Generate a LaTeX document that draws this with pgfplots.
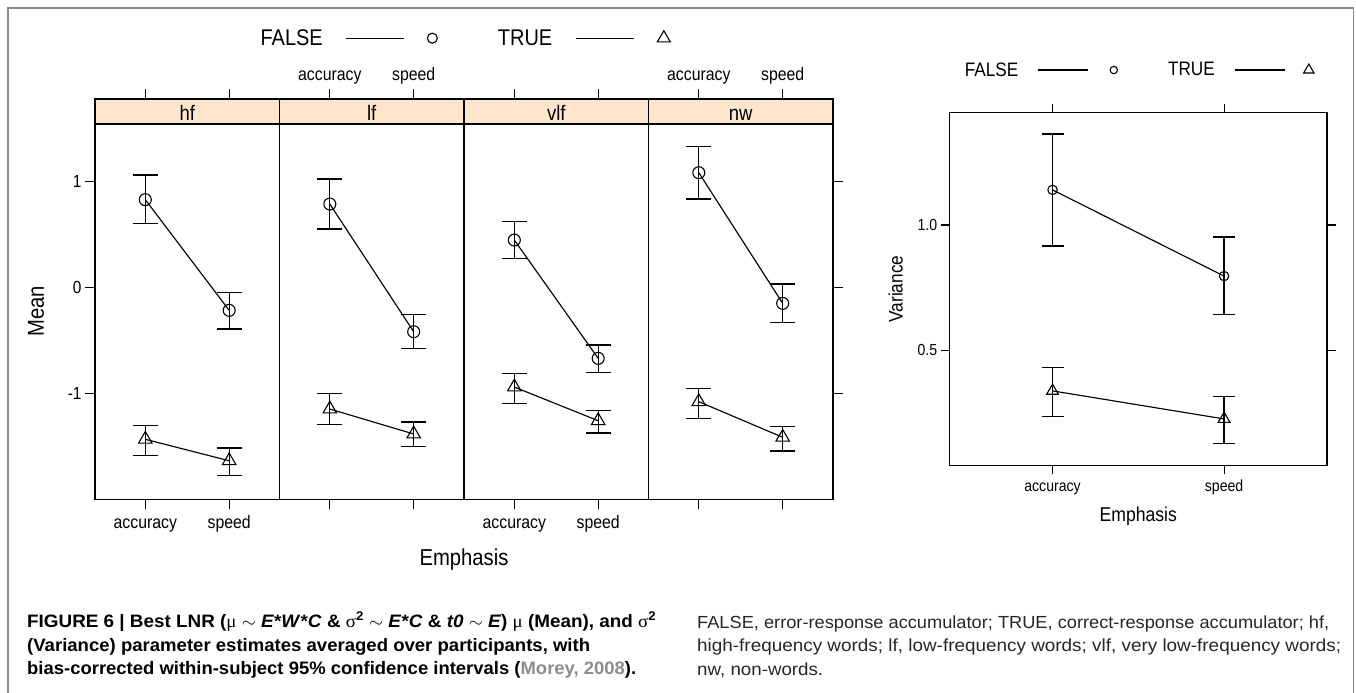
\documentclass[border=0pt]{standalone}
\usepackage{fontspec}
\setmainfont{Liberation Sans}
\newfontfamily\pf[FakeStretch=0.88]{Liberation Sans}
\newfontfamily\greek{Liberation Serif}
\usepackage{graphicx}
\usepackage{pgfplots}
\pgfplotsset{compat=1.18}

\definecolor{strip}{HTML}{FFE5CC}
\definecolor{frame}{HTML}{8A8A8A}
\definecolor{cite}{HTML}{8C8C8C}
\newcommand\fs[1]{\fontsize{#1bp}{#1bp}\selectfont}

\pgfplotsset{
  lat/.style={
    scale only axis, clip=false,
    xmin=0.4, xmax=2.6, xtick={1,2},
    xtick pos=both, tick align=outside, major tick length=10bp,
    axis line style={line width=1.1bp, black},
    tick style={black, line width=1.1bp},
    tick label style={font=\pf\fs{18}},
    xticklabel style={text height=15.5bp, text depth=5.4bp},
    error bars/y dir=both, error bars/y explicit,
    error bars/error bar style={line width=1.3bp},
    error bars/error mark options={rotate=90, mark size=12.5bp, line width=1.3bp},
  },
  mean/.style={lat, width=184.5bp, height=400.3bp, ymin=-1.996, ymax=1.773, anchor=south west},
  fls/.style={black, line width=1.15bp, mark=o, mark size=6bp, mark options={line width=1.1bp}},
  tru/.style={black, line width=1.15bp, mark=triangle, mark size=7.8bp, mark options={line width=1.1bp}},
}
% strip on top of a panel
\newcommand\strip[1]{%
  \draw[line width=1.1bp, fill=strip] (rel axis cs:0,1) rectangle ([yshift=-25bp]rel axis cs:1,1);
  \node[anchor=base, font=\pf\fs{21}, inner sep=0pt] at ([yshift=-21bp]rel axis cs:0.5,1) {#1};}

\begin{document}
\begin{tikzpicture}
\path[use as bounding box] (0,0) rectangle (1356bp,-693bp);

% hf
\begin{axis}[mean, at={(95bp,-499.3bp)},
  xticklabels={accuracy,speed},
  ytick={-1,0,1}, yticklabels={-1,0,1}, ytick pos=left,
  yticklabel style={font=\pf\fs{17.5}},
  legend columns=2, legend plot pos=right,
  legend style={draw=none, fill=none, at={(2.008,1.152)}, anchor=center,
    font=\pf\fs{22.7}, nodes={inner sep=0pt},
    /tikz/every odd column/.append style={column sep=23bp},
    /tikz/every even column/.append style={column sep=60bp}}]
\addplot[fls, legend image code/.code={
    \draw[line width=1.1bp] (0bp,0bp) -- (58bp,0bp);
    \draw[line width=1.1bp] (86bp,0bp) circle[radius=5bp];}]
  coordinates {(1,0.825) += (0,0.232) -= (0,0.222) (2,-0.217) += (0,0.170) -= (0,0.176)};
\addplot[tru, legend image code/.code={
    \draw[line width=1.1bp] (0bp,0bp) -- (58bp,0bp);
    \draw[line width=1.1bp, mark=triangle, mark size=7.5bp] plot coordinates {(88bp,0bp)};}]
  coordinates {(1,-1.431) += (0,0.128) -= (0,0.151) (2,-1.633) += (0,0.120) -= (0,0.141)};
\legend{FALSE,TRUE}
\strip{hf}
\end{axis}

% lf
\begin{axis}[mean, at={(279.5bp,-499.3bp)},
  xticklabels={accuracy,speed}, xticklabel pos=right, ytick=\empty]
\addplot[fls] coordinates {(1,0.784) += (0,0.236) -= (0,0.235) (2,-0.418) += (0,0.160) -= (0,0.156)};
\addplot[tru] coordinates {(1,-1.146) += (0,0.144) -= (0,0.148) (2,-1.381) += (0,0.113) -= (0,0.120)};
\strip{lf}
\end{axis}

% vlf
\begin{axis}[mean, at={(464bp,-499.3bp)},
  xticklabels={accuracy,speed}, ytick=\empty]
\addplot[fls] coordinates {(1,0.445) += (0,0.173) -= (0,0.176) (2,-0.669) += (0,0.126) -= (0,0.131)};
\addplot[tru] coordinates {(1,-0.939) += (0,0.129) -= (0,0.153) (2,-1.256) += (0,0.094) -= (0,0.116)};
\strip{vlf}
\end{axis}

% nw
\begin{axis}[mean, at={(648.5bp,-499.3bp)},
  xticklabels={accuracy,speed}, xticklabel pos=right,
  ytick={-1,0,1}, yticklabels={,,}, ytick pos=right]
\addplot[fls] coordinates {(1,1.079) += (0,0.245) -= (0,0.248) (2,-0.151) += (0,0.182) -= (0,0.182)};
\addplot[tru] coordinates {(1,-1.077) += (0,0.126) -= (0,0.157) (2,-1.412) += (0,0.100) -= (0,0.129)};
\strip{nw}
\end{axis}

% variance
\begin{axis}[lat, at={(949.6bp,-465.3bp)}, anchor=south west,
  width=377.4bp, height=352.6bp, ymin=0.041, ymax=1.448,
  major tick length=9bp,
  xticklabels={accuracy,speed},
  ytick={0.5,1.0}, yticklabels={0.5,1.0}, ytick pos=both, yticklabel pos=left,
  tick label style={font=\pf\fs{16}},
  xticklabel style={text height=14bp, text depth=4.8bp},
  error bars/error mark options={rotate=90, mark size=11bp, line width=1.3bp},
  legend columns=2, legend plot pos=right,
  legend style={draw=none, fill=none, at={(0.503,1.121)}, anchor=center,
    font=\pf\fs{19.5}, nodes={inner sep=0pt},
    /tikz/every odd column/.append style={column sep=19.5bp},
    /tikz/every even column/.append style={column sep=50bp}}]
\addplot[fls, mark size=4.7bp, legend image code/.code={
    \draw[line width=1.1bp] (0bp,0bp) -- (50bp,0bp);
    \draw[line width=1.1bp] (75.5bp,0bp) circle[radius=3.7bp];}]
  coordinates {(1,1.140) += (0,0.223) -= (0,0.224) (2,0.796) += (0,0.156) -= (0,0.154)};
\addplot[tru, mark size=6.8bp, legend image code/.code={
    \draw[line width=1.1bp] (0bp,0bp) -- (50bp,0bp);
    \draw[line width=1.1bp, mark=triangle, mark size=6bp] plot coordinates {(74bp,0bp)};}]
  coordinates {(1,0.338) += (0,0.093) -= (0,0.101) (2,0.226) += (0,0.089) -= (0,0.097)};
\legend{FALSE,TRUE}
\end{axis}

% axis titles
\node[font=\pf\fs{23}, anchor=base] at (464bp,-565.7bp) {Emphasis};
\node[font=\pf\fs{23}, rotate=90] at (36bp,-311.5bp) {Mean};
\node[font=\pf\fs{20}, anchor=base] at (1138.3bp,-521.7bp) {Emphasis};
\node[font=\pf\fs{19.6}, rotate=90] at (895.6bp,-289bp) {Variance};

% frame
\draw[frame, line width=1.5bp] (8bp,-693bp) -- (8bp,-8bp) -- (1353.5bp,-8bp) -- (1353.5bp,-693bp);

% caption
\begin{scope}[every node/.style={anchor=base west, inner sep=0pt}]
\node[font=\bfseries\fs{18}] at (27bp,-627bp) {\resizebox{629bp}{\height}{FIGURE 6 | Best LNR ({\greek\mdseries μ} $\sim$ \textit{E}*\textit{W}*\textit{C} \& {\greek\mdseries σ}\textsuperscript{2} $\sim$ \textit{E}*\textit{C} \& \textit{t0} $\sim$ \textit{E}) {\greek\mdseries μ} (Mean), and {\greek\mdseries σ}\textsuperscript{2}}};
\node[font=\bfseries\fs{18}] at (27bp,-651bp) {\resizebox{563bp}{\height}{(Variance) parameter estimates averaged over participants, with}};
\node[font=\bfseries\fs{18}] at (27bp,-674.5bp) {\resizebox{609bp}{\height}{bias-corrected within-subject 95\% confidence intervals (\textcolor{cite}{Morey, 2008}).}};
\node[font=\fs{17.5}, text=black!85] at (697bp,-628bp) {\resizebox{632bp}{\height}{FALSE, error-response accumulator; TRUE, correct-response accumulator; hf,}};
\node[font=\fs{17.5}, text=black!85] at (697bp,-651.5bp) {\resizebox{644bp}{\height}{high-frequency words; lf, low-frequency words; vlf, very low-frequency words;}};
\node[font=\fs{17.5}, text=black!85] at (697bp,-675bp) {\resizebox{126bp}{\height}{nw, non-words.}};
\end{scope}
\end{tikzpicture}
\end{document}
